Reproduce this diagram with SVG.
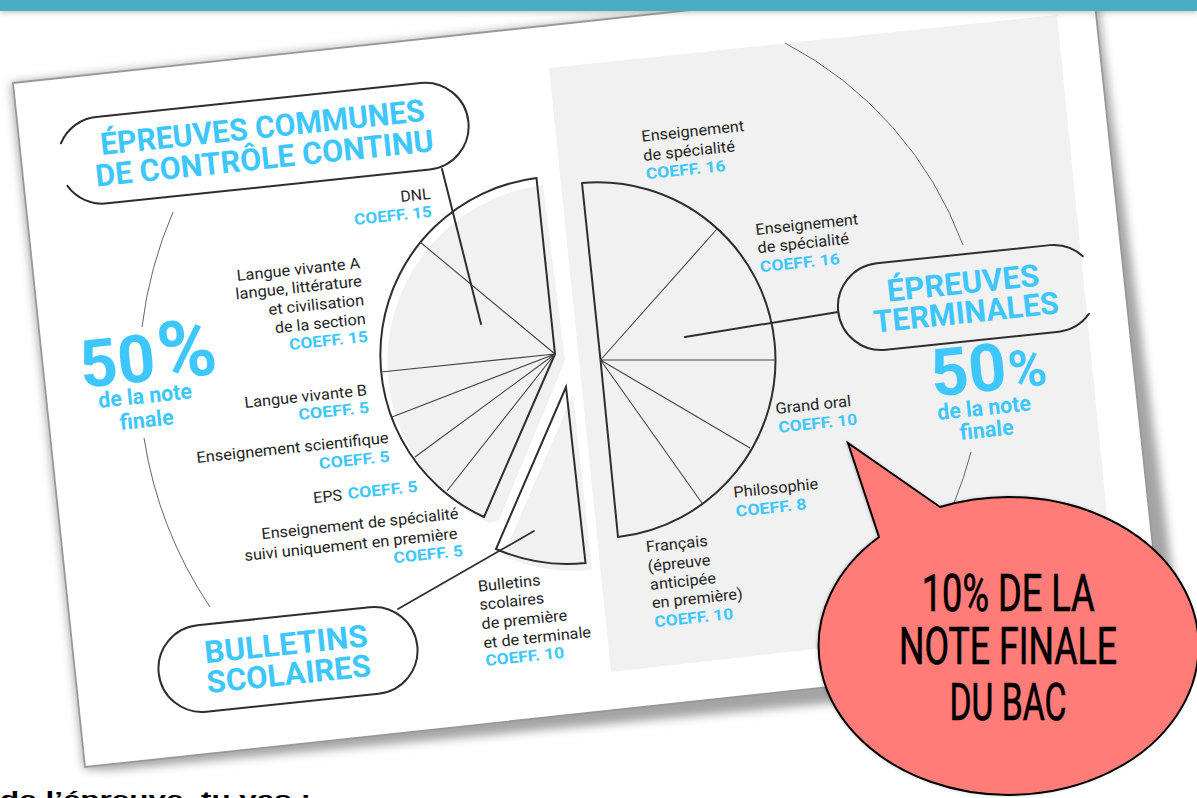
<svg xmlns="http://www.w3.org/2000/svg" width="1197" height="798" viewBox="0 0 1197 798">
<style>
text{font-family:Roboto,"Liberation Sans",sans-serif}
.k{font-size:15.5px;fill:#262626}
.c{font-size:15.5px;font-weight:700;fill:#3ec6ff}
.h{font-size:31px;font-weight:700;fill:#3ec6ff}
.s{font-size:22px;font-weight:700;fill:#3ec6ff}
.n{font-size:66px;font-weight:700;fill:#3ec6ff}
.b{font-size:52px;fill:#000;stroke:#000;stroke-width:.7px;text-anchor:start}
.o{fill:none;stroke:#2e2e2e;stroke-width:2px;stroke-linecap:round}
.t{fill:none;stroke:#444;stroke-width:1.1px}
.a{fill:none;stroke:#666;stroke-width:1px}
.g{fill:#f1f1f1}
</style>
<defs>
<filter id="blur" x="-10%" y="-10%" width="120%" height="120%"><feGaussianBlur stdDeviation="5"/></filter>
<filter id="blur2" x="-5%" y="-100%" width="110%" height="400%"><feGaussianBlur stdDeviation="3"/></filter>
<filter id="bs" x="-10%" y="-10%" width="120%" height="120%"><feDropShadow dx="-1" dy="0" stdDeviation="1.500" flood-color="#000" flood-opacity=".18"/></filter>
</defs>
<rect width="1197" height="798" fill="#fff"/>
<g id="paper">
<polygon points="11,83 1093,-33 1183,651 1170,672 110,770 84,769" fill="#a4a4a4" filter="url(#blur)"/>
<polygon points="13,83 1091,-33 1164,651 85,767" fill="#fff" stroke="#999" stroke-width="1.800"/>
<polygon points="549,68 1057,15 1117,615 611,672" class="g"/>
</g>
<g id="side-arcs">
<path class="a" d="M173 212A420 420 0 0 0 142 327"/>
<path class="a" d="M144 438A420 420 0 0 0 210 607"/>
<path class="a" d="M785 43A375 375 0 0 1 963 245"/>
<path class="a" d="M971 452A375 375 0 0 1 954 503"/>
</g>
<g id="pie-left">
<path class="g" d="M565 361L543 185A178.400 178.400 0 0 0 489 523L499 520Z"/>
<path class="o" d="M484 517L555 354L536.500 178A178.400 178.400 0 0 0 484 517"/>
<path class="t" d="M555 354L420 242M555 354L381 372M555 354L392 417M555 354L415 457M555 354L447 491"/>
</g>
<g id="pie-bulletins">
<path class="g" d="M573 394L503 556A177 177 0 0 0 592 570Z"/>
<path class="o" d="M566 387L496 549A177 177 0 0 0 585.500 563Z"/>
</g>
<g id="pie-right">
<path class="o" d="M582 183L600.500 360L618 537M582 183A177.930 177.930 0 0 1 618 537"/>
<path class="t" d="M600.500 360L717 229M600.500 360H775M600.500 360L750 448M600.500 360L702 503"/>
</g>
<g id="connectors">
<path class="o" d="M442 169L481 324"/>
<path class="o" d="M685 337L838 312"/>
<path class="o" d="M534 531L398 609" style="stroke-width:1.700px"/>
</g>
<g id="node-communes">
<path class="o" d="M-203 -21A43 43 0 0 1 -163 -43.500H161A43.500 43.500 0 0 1 161 43.500H-163A43 43 0 0 1 -201 22" transform="translate(265 143) rotate(-6)"/>
<text class="h" transform="translate(101.400 155) rotate(-6)" textLength="326" lengthAdjust="spacingAndGlyphs">ÉPREUVES COMMUNES</text>
<text class="h" transform="translate(96.400 186.700) rotate(-6)" textLength="340" lengthAdjust="spacingAndGlyphs">DE CONTRÔLE CONTINU</text>
</g>
<g id="node-terminales">
<path class="o" d="M123.500 -29A43 43 0 0 0 92 -43.500H-82A43.500 43.500 0 0 0 -82 43.500H92A43 43 0 0 0 123.500 29" transform="translate(963 298) rotate(-6)"/>
<text class="h" transform="translate(888 301.700) rotate(-6)" textLength="153" lengthAdjust="spacingAndGlyphs">ÉPREUVES</text>
<text class="h" transform="translate(874.800 332.700) rotate(-6)" textLength="186" lengthAdjust="spacingAndGlyphs">TERMINALES</text>
</g>
<g id="node-bulletins">
<rect class="o" x="-130" y="-43.500" width="260" height="87" rx="43.500" transform="translate(288 659.500) rotate(-6)"/>
<text class="h" transform="translate(205.500 663.300) rotate(-6)" textLength="164" lengthAdjust="spacingAndGlyphs">BULLETINS</text>
<text class="h" transform="translate(207.800 693.300) rotate(-6)" textLength="165" lengthAdjust="spacingAndGlyphs">SCOLAIRES</text>
</g>
<g id="note-left">
<text class="n" transform="translate(82 388) rotate(-6)">50<tspan dx="3" style="font-size:80px">%</tspan></text>
<text class="s" transform="translate(99 408) rotate(-6)" textLength="94" lengthAdjust="spacingAndGlyphs">de la note</text>
<text class="s" transform="translate(120.500 430) rotate(-6)" textLength="54" lengthAdjust="spacingAndGlyphs">finale</text>
</g>
<g id="note-right">
<text class="n" transform="translate(933 396.700) rotate(-6)">50<tspan dx="2" style="font-size:52px">%</tspan></text>
<text class="s" transform="translate(938 420) rotate(-6)" textLength="94" lengthAdjust="spacingAndGlyphs">de la note</text>
<text class="s" transform="translate(960.500 440) rotate(-6)" textLength="54" lengthAdjust="spacingAndGlyphs">finale</text>
</g>
<g id="label-dnl">
<text class="k" transform="translate(401 202) rotate(-6)" textLength="30" lengthAdjust="spacingAndGlyphs">DNL</text>
<text class="c" transform="translate(354.800 225) rotate(-6)" textLength="78" lengthAdjust="spacingAndGlyphs">COEFF. 15</text>
</g>
<g id="label-lva">
<text class="k" transform="translate(237.300 281) rotate(-6)" textLength="124" lengthAdjust="spacingAndGlyphs">Langue vivante A</text>
<text class="k" transform="translate(236 299.300) rotate(-6)" textLength="127" lengthAdjust="spacingAndGlyphs">langue, littérature</text>
<text class="k" transform="translate(269 315) rotate(-6)" textLength="96" lengthAdjust="spacingAndGlyphs">et civilisation</text>
<text class="k" transform="translate(275.500 333.300) rotate(-6)" textLength="91" lengthAdjust="spacingAndGlyphs">de la section</text>
<text class="c" transform="translate(289.700 350) rotate(-6)" textLength="79" lengthAdjust="spacingAndGlyphs">COEFF. 15</text>
</g>
<g id="label-lvb">
<text class="k" transform="translate(245 408) rotate(-6)" textLength="123" lengthAdjust="spacingAndGlyphs">Langue vivante B</text>
<text class="c" transform="translate(299 420) rotate(-6)" textLength="71" lengthAdjust="spacingAndGlyphs">COEFF. 5</text>
</g>
<g id="label-sci">
<text class="k" transform="translate(197 463) rotate(-6)" textLength="193" lengthAdjust="spacingAndGlyphs">Enseignement scientifique</text>
<text class="c" transform="translate(319.600 469) rotate(-6)" textLength="71" lengthAdjust="spacingAndGlyphs">COEFF. 5</text>
</g>
<g id="label-eps">
<text class="k" transform="translate(313.800 503.300) rotate(-6)" textLength="29" lengthAdjust="spacingAndGlyphs">EPS</text>
<text class="c" transform="translate(348.300 499) rotate(-6)" textLength="70" lengthAdjust="spacingAndGlyphs">COEFF. 5</text>
</g>
<g id="label-spe-premiere">
<text class="k" transform="translate(262 539.300) rotate(-6)" textLength="198" lengthAdjust="spacingAndGlyphs">Enseignement de spécialité</text>
<text class="k" transform="translate(245 561) rotate(-6)" textLength="214" lengthAdjust="spacingAndGlyphs">suivi uniquement en première</text>
<text class="c" transform="translate(394 563.300) rotate(-6)" textLength="70" lengthAdjust="spacingAndGlyphs">COEFF. 5</text>
</g>
<g id="label-bulletins">
<text class="k" transform="translate(478.400 591.700) rotate(-6)" textLength="63" lengthAdjust="spacingAndGlyphs">Bulletins</text>
<text class="k" transform="translate(480 610) rotate(-6)" textLength="65" lengthAdjust="spacingAndGlyphs">scolaires</text>
<text class="k" transform="translate(482 629.300) rotate(-6)" textLength="86" lengthAdjust="spacingAndGlyphs">de première</text>
<text class="k" transform="translate(484 648.300) rotate(-6)" textLength="108" lengthAdjust="spacingAndGlyphs">et de terminale</text>
<text class="c" transform="translate(486 666) rotate(-6)" textLength="79" lengthAdjust="spacingAndGlyphs">COEFF. 10</text>
</g>
<g id="label-spe-1">
<text class="k" transform="translate(642 141.700) rotate(-6)" textLength="103" lengthAdjust="spacingAndGlyphs">Enseignement</text>
<text class="k" transform="translate(643.800 161) rotate(-6)" textLength="92" lengthAdjust="spacingAndGlyphs">de spécialité</text>
<text class="c" transform="translate(646.400 179.300) rotate(-6)" textLength="80" lengthAdjust="spacingAndGlyphs">COEFF. 16</text>
</g>
<g id="label-spe-2">
<text class="k" transform="translate(756 235) rotate(-6)" textLength="103" lengthAdjust="spacingAndGlyphs">Enseignement</text>
<text class="k" transform="translate(758 253.300) rotate(-6)" textLength="92" lengthAdjust="spacingAndGlyphs">de spécialité</text>
<text class="c" transform="translate(760.600 272.300) rotate(-6)" textLength="80" lengthAdjust="spacingAndGlyphs">COEFF. 16</text>
</g>
<g id="label-oral">
<text class="k" transform="translate(776 414) rotate(-6)" textLength="76" lengthAdjust="spacingAndGlyphs">Grand oral</text>
<text class="c" transform="translate(779 432.700) rotate(-6)" textLength="79" lengthAdjust="spacingAndGlyphs">COEFF. 10</text>
</g>
<g id="label-philo">
<text class="k" transform="translate(734 497.700) rotate(-6)" textLength="85" lengthAdjust="spacingAndGlyphs">Philosophie</text>
<text class="c" transform="translate(736.300 516.700) rotate(-6)" textLength="71" lengthAdjust="spacingAndGlyphs">COEFF. 8</text>
</g>
<g id="label-francais">
<text class="k" transform="translate(646.400 552.300) rotate(-6)" textLength="62" lengthAdjust="spacingAndGlyphs">Français</text>
<text class="k" transform="translate(648.300 571.700) rotate(-6)" textLength="63" lengthAdjust="spacingAndGlyphs">(épreuve</text>
<text class="k" transform="translate(650.600 590) rotate(-6)" textLength="66" lengthAdjust="spacingAndGlyphs">anticipée</text>
<text class="k" transform="translate(652.500 608.300) rotate(-6)" textLength="91" lengthAdjust="spacingAndGlyphs">en première)</text>
<text class="c" transform="translate(655 627.300) rotate(-6)" textLength="79" lengthAdjust="spacingAndGlyphs">COEFF. 10</text>
</g>
<g id="header">
<rect x="0" y="0" width="1197" height="12" fill="#777" opacity=".55" filter="url(#blur2)"/>
<rect x="0" y="0" width="1197" height="11" fill="#4bacc6"/>
</g>
<g id="bubble">
<path d="M879 537L848 443L940 507A190 149 0 1 1 879 537Z" fill="#ff7c78" stroke="#000" stroke-width="2" stroke-linejoin="miter" filter="url(#bs)"/>
<text class="b" x="921.700" y="611" textLength="173" lengthAdjust="spacingAndGlyphs">10% DE LA</text>
<text class="b" x="899" y="664" textLength="218" lengthAdjust="spacingAndGlyphs">NOTE FINALE</text>
<text class="b" x="949.400" y="720" textLength="117" lengthAdjust="spacingAndGlyphs">DU BAC</text>
</g>
<text x="0" y="806" textLength="311" lengthAdjust="spacingAndGlyphs" style="font-family:'Liberation Sans',Arial,sans-serif;font-size:21px;font-weight:700;fill:#000">de l’épreuve, tu vas :</text>
</svg>
